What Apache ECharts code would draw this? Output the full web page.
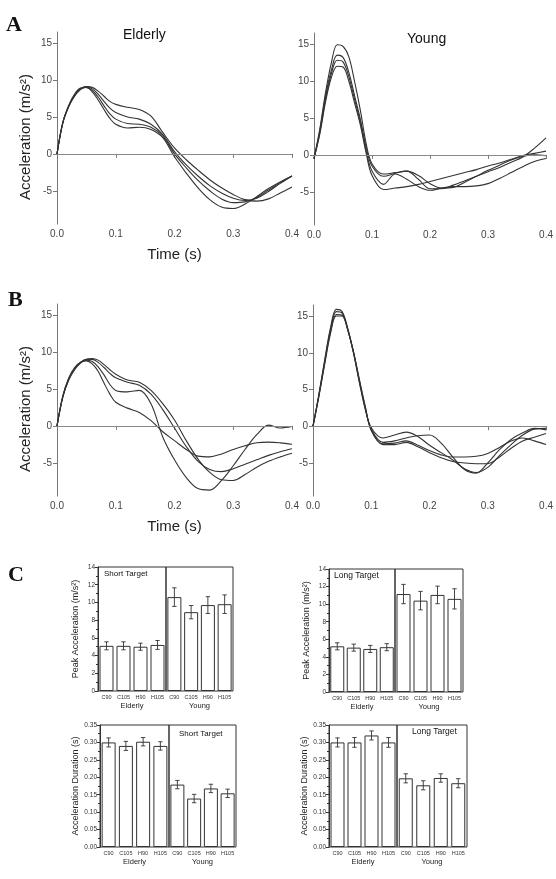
<!DOCTYPE html>
<html>
<head>
<meta charset="utf-8">
<script src="https://cdn.jsdelivr.net/npm/echarts@6/dist/echarts.min.js"></script>
<style>
  html, body { margin: 0; padding: 0; background: #fff; }
  #chart { width: 556px; height: 879px; }
</style>
</head>
<body>
<div id="chart"></div>
<script>
// time base shared by all acceleration traces (s)
var times = [0, 0.01, 0.02, 0.03, 0.04, 0.05, 0.06, 0.07, 0.08, 0.09, 0.10,
  0.12, 0.14, 0.16, 0.18, 0.20, 0.22, 0.24, 0.26, 0.28, 0.30, 0.32, 0.34, 0.36, 0.38, 0.40]

// panel A, elderly
var elderlyA1 = [0, 4.2, 6.4, 7.8, 8.7, 9.1, 9.0, 8.5, 7.8, 7.1, 6.7, 6.3, 6.0, 5.1, 2.9, 0.8, -0.8, -2.2, -3.5, -4.6, -5.5, -6.2, -6.4, -6.1, -5.3, -4.5]
var elderlyA2 = [0, 4.2, 6.4, 7.9, 8.8, 9.1, 8.8, 8.1, 7.1, 6.2, 5.6, 5.0, 4.7, 4.0, 2.6, 0.3, -1.5, -3.0, -4.3, -5.3, -6.0, -6.3, -6.0, -5.1, -4.0, -3.0]
var elderlyA3 = [0, 4.3, 6.5, 8.0, 8.8, 9.0, 8.6, 7.7, 6.5, 5.4, 4.7, 4.1, 4.0, 3.6, 2.4, 0.0, -1.9, -3.6, -5.0, -6.1, -6.6, -6.5, -5.9, -4.9, -3.9, -3.0]
var elderlyA4 = [0, 4.3, 6.6, 8.1, 8.9, 9.0, 8.4, 7.3, 6.0, 4.8, 4.0, 3.5, 3.6, 3.3, 2.2, -0.4, -2.6, -4.6, -6.2, -7.2, -7.4, -6.8, -5.8, -4.7, -3.8, -3.0]
// panel A, young
var youngA1 = [-0.5, 3.5, 8.5, 12.5, 14.9, 14.7, 13.3, 9.9, 6.0, 1.5, -1.2, -2.6, -2.4, -2.2, -3.3, -4.6, -4.6, -4.1, -3.5, -2.9, -2.3, -1.7, -1.0, -0.3, 0.9, 2.3]
var youngA2 = [-0.5, 3.3, 8.0, 11.5, 13.5, 13.2, 11.2, 8.0, 4.8, 1.0, -1.5, -2.9, -2.5, -2.2, -2.8, -3.9, -4.5, -4.4, -3.7, -2.9, -2.1, -1.4, -0.7, -0.2, 0.0, -0.1]
var youngA3 = [-0.5, 3.0, 7.6, 11.0, 12.8, 12.6, 10.6, 7.5, 4.4, 0.5, -2.2, -4.0, -2.6, -3.3, -4.3, -4.8, -4.5, -4.3, -4.3, -4.2, -3.9, -3.2, -2.4, -1.6, -0.9, -0.5]
var youngA4 = [-0.5, 2.8, 7.2, 10.5, 12.0, 11.9, 10.0, 7.0, 4.0, 0.2, -2.8, -4.7, -4.5, -4.3, -4.0, -3.6, -3.2, -2.8, -2.4, -2.0, -1.5, -1.1, -0.6, -0.1, 0.2, 0.5]

// panel B, elderly
var elderlyB1 = [0, 3.9, 6.2, 7.6, 8.5, 9.0, 9.1, 8.9, 8.3, 7.6, 7.0, 6.2, 5.9, 4.8, 3.0, 0.8, -2.0, -4.5, -6.3, -7.3, -7.4, -6.6, -5.6, -4.8, -4.2, -3.7]
var elderlyB2 = [0, 4.0, 6.3, 7.7, 8.6, 9.0, 9.0, 8.6, 7.9, 7.1, 6.5, 5.9, 5.5, 4.3, 2.2, -0.3, -2.8, -4.8, -5.9, -6.2, -5.8, -5.2, -4.6, -4.0, -3.5, -3.1]
var elderlyB3 = [0, 4.0, 6.4, 7.8, 8.6, 8.9, 8.7, 8.0, 6.9, 5.6, 4.8, 4.6, 4.8, 3.0, -1.5, -4.6, -7.0, -8.5, -8.7, -7.4, -5.4, -3.2, -1.2, 0.1, -0.3, -0.1]
var elderlyB4 = [0, 4.1, 6.5, 7.9, 8.6, 8.8, 8.4, 7.4, 5.8, 4.3, 3.2, 2.4, 1.8, 0.7, -0.8, -2.0, -3.2, -4.1, -4.2, -3.8, -3.2, -2.7, -2.3, -2.2, -2.3, -2.5]
// panel B, young
var youngB1 = [0, 4.3, 9.0, 13.4, 15.9, 15.6, 13.2, 9.8, 5.8, 2.2, -0.2, -1.6, -1.2, -0.8, -1.4, -2.6, -3.6, -4.6, -5.8, -6.3, -5.6, -4.0, -2.5, -1.2, -0.4, -0.3]
var youngB2 = [0, 4.2, 8.8, 13.1, 15.6, 15.4, 13.1, 9.8, 5.9, 2.3, -0.4, -2.2, -2.0, -1.6, -1.3, -1.2, -2.3, -4.2, -5.9, -6.4, -5.0, -3.2, -1.8, -0.9, -0.3, -0.5]
var youngB3 = [0, 4.1, 8.6, 12.8, 15.2, 15.1, 13.0, 9.9, 6.1, 2.5, -0.5, -2.4, -2.3, -2.0, -2.6, -3.3, -3.9, -4.2, -4.2, -4.1, -3.7, -2.9, -2.0, -1.6, -2.0, -2.5]
var youngB4 = [0, 4.0, 8.4, 12.6, 15.0, 15.0, 13.0, 10.0, 6.2, 2.6, -0.6, -2.5, -2.5, -2.2, -2.8, -3.6, -4.3, -4.8, -5.0, -5.1, -5.1, -4.2, -3.0, -2.0, -1.5, -1.0]

var accTicks = [-5, 0, 5, 10, 15]

// panel C bars
var conditions = ['C90', 'C105', 'H90', 'H105']
var peakShortElderly = [5.1, 5.1, 5.0, 5.2]
var peakShortElderlyErr = [0.45, 0.45, 0.4, 0.5]
var peakShortYoung = [10.6, 8.9, 9.7, 9.8]
var peakShortYoungErr = [1.05, 0.75, 0.95, 1.05]
var peakLongElderly = [5.2, 5.05, 4.9, 5.1]
var peakLongElderlyErr = [0.4, 0.4, 0.4, 0.4]
var peakLongYoung = [11.15, 10.4, 11.05, 10.6]
var peakLongYoungErr = [1.1, 1.05, 1.0, 1.15]
var durShortElderly = [0.300, 0.290, 0.302, 0.290]
var durShortElderlyErr = [0.013, 0.013, 0.012, 0.012]
var durShortYoung = [0.179, 0.139, 0.168, 0.154]
var durShortYoungErr = [0.012, 0.012, 0.012, 0.012]
var durLongElderly = [0.300, 0.300, 0.320, 0.300]
var durLongElderlyErr = [0.013, 0.014, 0.013, 0.014]
var durLongYoung = [0.197, 0.177, 0.198, 0.183]
var durLongYoungErr = [0.013, 0.013, 0.012, 0.013]

var FONT = '"Liberation Sans", Arial, sans-serif'
var chart = echarts.init(document.getElementById('chart'))

var grid = []
var xAxis = []
var yAxis = []
var series = []

function toPoints(vals) {
  return times.map(function (t, i) { return [t, vals[i]] })
}

function addLinePanel(box, traces, showNames) {
  var idx = grid.length
  grid.push(box)
  xAxis.push({
    type: 'value', gridIndex: idx, min: 0, max: 0.4, interval: 0.1,
    axisLine: { lineStyle: { color: '#777' } },
    axisTick: { length: 4, lineStyle: { color: '#777' } },
    splitLine: { show: false },
    axisLabel: { fontSize: 10, color: '#444', fontFamily: FONT, margin: 5,
      formatter: function (v) { return v.toFixed(1) } },
    name: showNames ? 'Time (s)' : '', nameLocation: 'middle', nameGap: 23,
    nameTextStyle: { fontSize: 15, color: '#222', fontFamily: FONT }
  })
  yAxis.push({
    type: 'value', gridIndex: idx, min: -9.5, max: 16.5,
    axisLine: { show: true, lineStyle: { color: '#777' } },
    axisTick: { show: true, length: 4, customValues: accTicks, lineStyle: { color: '#777' } },
    splitLine: { show: false },
    axisLabel: { fontSize: 10, color: '#444', fontFamily: FONT, margin: 5, customValues: accTicks },
    name: showNames ? 'Acceleration (m/s²)' : '', nameLocation: 'middle', nameGap: 24,
    nameTextStyle: { fontSize: 15, color: '#222', fontFamily: FONT, padding: [0, 0, 0, -18] }
  })
  traces.forEach(function (vals, k) {
    var s = {
      type: 'line', xAxisIndex: idx, yAxisIndex: idx, data: toPoints(vals),
      smooth: 0.35, showSymbol: false, silent: true,
      lineStyle: { color: '#333', width: 1.1 }
    }
    if (k === 0) {
      s.markLine = {
        silent: true, symbol: 'none', label: { show: false },
        lineStyle: { color: '#888', width: 1, type: 'solid' },
        data: [{ yAxis: 0 }]
      }
    }
    series.push(s)
  })
}

function renderErr(params, api) {
  var x = api.value(0)
  var lo = api.coord([x, api.value(1)])
  var hi = api.coord([x, api.value(2)])
  var w = 2.2
  var st = { stroke: '#333', lineWidth: 0.9 }
  return {
    type: 'group',
    children: [
      { type: 'line', shape: { x1: lo[0], y1: lo[1], x2: hi[0], y2: hi[1] }, style: st },
      { type: 'line', shape: { x1: lo[0] - w, y1: lo[1], x2: lo[0] + w, y2: lo[1] }, style: st },
      { type: 'line', shape: { x1: hi[0] - w, y1: hi[1], x2: hi[0] + w, y2: hi[1] }, style: st }
    ]
  }
}

function addBarHalf(box, group, means, errs, yCfg, first) {
  var idx = grid.length
  grid.push(Object.assign({ show: true, borderColor: '#333', borderWidth: 1, backgroundColor: 'transparent' }, box))
  xAxis.push({
    type: 'category', gridIndex: idx, data: conditions,
    axisLine: { show: false }, axisTick: { show: false },
    axisLabel: { fontSize: 5.5, color: '#333', fontFamily: FONT, margin: 3, interval: 0 },
    name: group, nameLocation: 'middle', nameGap: 11,
    nameTextStyle: { fontSize: 7.5, color: '#222', fontFamily: FONT }
  })
  yAxis.push({
    type: 'value', gridIndex: idx, min: 0, max: yCfg.max, interval: yCfg.interval,
    show: first,
    axisLine: { show: true, lineStyle: { color: '#333' } },
    axisTick: { show: true, length: 3, lineStyle: { color: '#333' } },
    minorTick: { show: true, splitNumber: 2, length: 2, lineStyle: { color: '#333' } },
    splitLine: { show: false },
    axisLabel: { fontSize: 6.5, color: '#333', fontFamily: FONT, margin: 3, formatter: yCfg.fmt },
    name: yCfg.name, nameLocation: 'middle', nameGap: 18,
    nameTextStyle: { fontSize: 9, color: '#222', fontFamily: FONT }
  })
  series.push({
    type: 'bar', xAxisIndex: idx, yAxisIndex: idx, data: means, barWidth: 14, silent: true,
    itemStyle: { color: '#fff', borderColor: '#333', borderWidth: 1 }
  })
  series.push({
    type: 'custom', xAxisIndex: idx, yAxisIndex: idx, silent: true, z: 5,
    renderItem: renderErr, encode: { x: 0, y: [1, 2] },
    data: means.map(function (m, i) { return [i, m - errs[i], m + errs[i]] })
  })
}

var peakCfg = { max: 14, interval: 2, name: 'Peak Acceleration (m/s²)', fmt: '{value}' }
var durCfg = { max: 0.35, interval: 0.05, name: 'Acceleration Duration (s)',
  fmt: function (v) { return v.toFixed(2) } }

addLinePanel({ left: 57, top: 32, width: 235, height: 192 }, [elderlyA1, elderlyA2, elderlyA3, elderlyA4], true)
addLinePanel({ left: 314, top: 33, width: 235, height: 192 }, [youngA1, youngA2, youngA3, youngA4], false)
addLinePanel({ left: 57, top: 304, width: 235, height: 192 }, [elderlyB1, elderlyB2, elderlyB3, elderlyB4], true)
addLinePanel({ left: 313, top: 305, width: 235, height: 191 }, [youngB1, youngB2, youngB3, youngB4], false)

addBarHalf({ left: 98, top: 567, width: 68, height: 124 }, 'Elderly', peakShortElderly, peakShortElderlyErr, peakCfg, true)
addBarHalf({ left: 166, top: 567, width: 67, height: 124 }, 'Young', peakShortYoung, peakShortYoungErr, peakCfg, false)
addBarHalf({ left: 329, top: 569, width: 66, height: 123 }, 'Elderly', peakLongElderly, peakLongElderlyErr, peakCfg, true)
addBarHalf({ left: 395, top: 569, width: 68, height: 123 }, 'Young', peakLongYoung, peakLongYoungErr, peakCfg, false)
addBarHalf({ left: 100, top: 725, width: 69, height: 122 }, 'Elderly', durShortElderly, durShortElderlyErr, durCfg, true)
addBarHalf({ left: 169, top: 725, width: 67, height: 122 }, 'Young', durShortYoung, durShortYoungErr, durCfg, false)
addBarHalf({ left: 329, top: 725, width: 68, height: 122 }, 'Elderly', durLongElderly, durLongElderlyErr, durCfg, true)
addBarHalf({ left: 397, top: 725, width: 70, height: 122 }, 'Young', durLongYoung, durLongYoungErr, durCfg, false)

function label(text, left, top, font) {
  return { type: 'text', left: left, top: top, silent: true,
    style: { text: text, font: font, fill: '#111' } }
}

var letterFont = 'bold 22px "Liberation Serif", "Times New Roman", serif'

chart.setOption({
  animation: false,
  backgroundColor: '#fff',
  grid: grid,
  xAxis: xAxis,
  yAxis: yAxis,
  series: series,
  graphic: [
    label('A', 6, 14, letterFont),
    label('B', 8, 289, letterFont),
    label('C', 8, 564, letterFont),
    label('Elderly', 123, 28, '14px ' + FONT),
    label('Young', 407, 32, '14px ' + FONT),
    label('Short Target', 104, 570, '8px ' + FONT),
    label('Long Target', 334, 571, '8.5px ' + FONT),
    label('Short Target', 179, 730, '8px ' + FONT),
    label('Long Target', 412, 727, '8.5px ' + FONT)
  ]
})
</script>
</body>
</html>
